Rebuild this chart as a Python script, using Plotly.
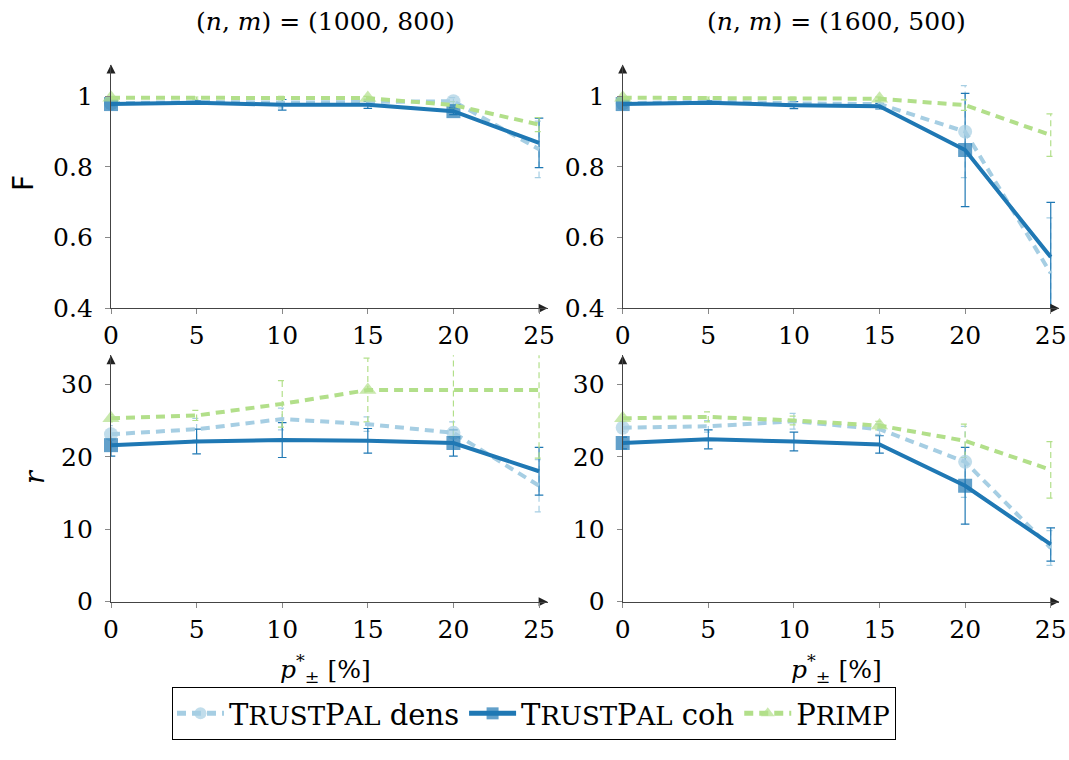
import plotly.graph_objects as go

# ---------------- data ----------------
x_vals = [0, 5, 10, 15, 20, 25]
x_ticks = [0, 5, 10, 15, 20, 25]

titles = ["(<i>n</i>, <i>m</i>) = (1000, 800)", "(<i>n</i>, <i>m</i>) = (1600, 500)"]

# F, (1000, 800)
F1_dens = [0.980, 0.984, 0.982, 0.984, 0.986, 0.850]
F1_dens_err = [0.005, 0.005, 0.015, 0.008, 0.010, 0.080]
F1_coh = [0.978, 0.982, 0.976, 0.976, 0.958, 0.868]
F1_coh_err = [0.005, 0.005, 0.015, 0.010, 0.010, 0.070]
F1_primp = [0.996, 0.995, 0.995, 0.995, 0.975, 0.920]
F1_primp_err = [0.003, 0.003, 0.005, 0.005, 0.010, 0.020]

# F, (1600, 500)
F2_dens = [0.980, 0.985, 0.980, 0.978, 0.900, 0.499]
F2_dens_err = [0.005, 0.005, 0.010, 0.008, 0.130, 0.157]
F2_coh = [0.978, 0.982, 0.975, 0.972, 0.848, 0.545]
F2_coh_err = [0.005, 0.005, 0.010, 0.008, 0.160, 0.155]
F2_primp = [0.996, 0.995, 0.994, 0.993, 0.975, 0.890]
F2_primp_err = [0.003, 0.003, 0.004, 0.005, 0.015, 0.060]

# r, (1000, 800)
r1_dens = [23.1, 23.8, 25.2, 24.5, 23.3, 16.0]
r1_dens_err = [1.2, 1.5, 1.5, 1.0, 1.5, 3.6]
r1_coh = [21.6, 22.1, 22.3, 22.2, 21.9, 18.0]
r1_coh_err = [1.5, 1.7, 2.4, 1.7, 1.8, 3.3]
r1_primp = [25.3, 25.7, 27.3, 29.2, 29.2, 29.2]
r1_primp_err = [0.5, 0.7, 3.2, 4.4, 6.4, 9.4]

# r, (1600, 500)
r2_dens = [24.0, 24.2, 24.9, 23.8, 19.3, 7.4]
r2_dens_err = [0.5, 0.8, 1.1, 0.7, 4.9, 2.4]
r2_coh = [21.9, 22.4, 22.1, 21.7, 16.0, 7.9]
r2_coh_err = [0.8, 1.3, 1.3, 1.2, 5.3, 2.3]
r2_primp = [25.3, 25.5, 25.0, 24.3, 22.2, 18.2]
r2_primp_err = [0.5, 0.7, 0.6, 0.6, 2.3, 3.9]

# ---------------- style ----------------
SERIF = "DejaVu Serif"
C_DENS = "#a6cee3"
C_COH = "#1f78b4"
C_PRIMP = "#b2df8a"

sc = lambda s: '<span style="font-size:26px">' + s + '</span>'
series = [
    dict(key="dens", name="T" + sc("RUST") + "P" + sc("AL") + " dens", color=C_DENS,
         dash="9px,6px", symbol="circle", msize=14, marks=[0, 4], edash="6px,4px"),
    dict(key="coh", name="T" + sc("RUST") + "P" + sc("AL") + " coh", color=C_COH,
         dash="solid", symbol="square", msize=14, marks=[0, 4], edash="solid"),
    dict(key="primp", name="P" + sc("RIMP"), color=C_PRIMP,
         dash="9px,6px", symbol="triangle-up", msize=15, marks=[0, 3], edash="6px,4px"),
]

X_RANGE = [0, 25.5]
F_RANGE = [0.4, 1.09]
R_RANGE = [0, 34]

panels = [
    ("x", "y", F_RANGE, {"dens": (F1_dens, F1_dens_err), "coh": (F1_coh, F1_coh_err), "primp": (F1_primp, F1_primp_err)}),
    ("x2", "y2", F_RANGE, {"dens": (F2_dens, F2_dens_err), "coh": (F2_coh, F2_coh_err), "primp": (F2_primp, F2_primp_err)}),
    ("x3", "y3", R_RANGE, {"dens": (r1_dens, r1_dens_err), "coh": (r1_coh, r1_coh_err), "primp": (r1_primp, r1_primp_err)}),
    ("x4", "y4", R_RANGE, {"dens": (r2_dens, r2_dens_err), "coh": (r2_coh, r2_coh_err), "primp": (r2_primp, r2_primp_err)}),
]

CAP = 0.25


def err_lines(xs, ys, es):
    X, Y = [], []
    for xv, yv, ev in zip(xs, ys, es):
        X += [xv, xv, None, xv - CAP, xv + CAP, None, xv - CAP, xv + CAP, None]
        Y += [yv - ev, yv + ev, None, yv - ev, yv - ev, None, yv + ev, yv + ev, None]
    return X, Y


fig = go.Figure()

# error bars first (underneath)
for xa, ya, yr, data in panels:
    for s in series:
        yv, ev = data[s["key"]]
        ex, ey = err_lines(x_vals, yv, ev)
        fig.add_trace(go.Scatter(x=ex, y=ey, xaxis=xa, yaxis=ya, mode="lines",
                                 line=dict(color=s["color"], width=1.2, dash=s["edash"]),
                                 showlegend=False, hoverinfo="skip"))

# lines + markers
for i, (xa, ya, yr, data) in enumerate(panels):
    for s in series:
        yv, ev = data[s["key"]]
        sizes = [s["msize"] if k in s["marks"] else 0 for k in range(len(x_vals))]
        fig.add_trace(go.Scatter(x=x_vals, y=yv, xaxis=xa, yaxis=ya, mode="lines+markers",
                                 name=s["name"], legendgroup=s["key"], showlegend=(i == 0),
                                 line=dict(color=s["color"], width=4, dash=s["dash"]),
                                 marker=dict(symbol=s["symbol"], size=sizes, color=s["color"],
                                             line=dict(width=0)),
                                 cliponaxis=False))

# axis arrow heads (at the axis ends)
for xa, ya, yr, data in panels:
    fig.add_trace(go.Scatter(x=[X_RANGE[1], X_RANGE[0]], y=[yr[0], yr[1]], xaxis=xa, yaxis=ya,
                             mode="markers", showlegend=False, hoverinfo="skip", cliponaxis=False,
                             marker=dict(symbol=["arrow-right", "arrow-up"], size=9,
                                         color="#222", line=dict(width=0))))

W, H = 1069, 760
px = lambda p: p / W
py = lambda p: 1 - p / H

xdom_l = [px(111), px(547.6)]
xdom_r = [px(622.7), px(1059.3)]
ydom_t = [py(308.3), py(64.5)]
ydom_b = [py(601.7), py(355.3)]

axis_common = dict(showline=True, linecolor="#444", linewidth=1.3, ticks="outside",
                   ticklen=5, tickwidth=1, tickcolor="#888", showgrid=False, zeroline=False,
                   automargin=False,
                   tickfont=dict(family=SERIF, size=25, color="black"), fixedrange=True)

layout = dict(
    width=W, height=H, margin=dict(l=0, r=0, t=0, b=0, autoexpand=False),
    plot_bgcolor="white", paper_bgcolor="white",
    font=dict(family=SERIF, size=25, color="black"),
    showlegend=True,
    legend=dict(orientation="h", x=px(534), xanchor="center", y=py(687), yanchor="top",
                bordercolor="black", borderwidth=1, bgcolor="white",
                font=dict(family=SERIF, size=29, color="black"),
                itemsizing="constant", itemwidth=47, tracegroupgap=0),
)

for n, (xd, yd, yr, dt) in enumerate([
    (xdom_l, ydom_t, F_RANGE, 0.2),
    (xdom_r, ydom_t, F_RANGE, 0.2),
    (xdom_l, ydom_b, R_RANGE, 10),
    (xdom_r, ydom_b, R_RANGE, 10),
], start=1):
    sfx = "" if n == 1 else str(n)
    layout["xaxis" + sfx] = dict(axis_common, domain=xd, range=X_RANGE, tickvals=x_ticks,
                                 anchor="y" + sfx, ticklabelstandoff=0)
    layout["yaxis" + sfx] = dict(axis_common, domain=yd, range=yr, dtick=dt, tick0=0,
                                 anchor="x" + sfx, ticklabelstandoff=7)

fig.update_layout(**layout)

ann = []
# titles and x labels
for t, cx in zip(titles, [325, 836.7]):
    ann.append(dict(xref="paper", yref="paper", x=px(cx), y=py(22), text=t, showarrow=False,
                    font=dict(family=SERIF, size=25), xanchor="center", yanchor="middle"))
    ann.append(dict(xref="paper", yref="paper", x=px(cx), y=py(669),
                    text="<i>p</i><sup>*</sup><sub>±</sub> [%]", showarrow=False,
                    font=dict(family=SERIF, size=25), xanchor="center", yanchor="middle"))
# y labels
ann.append(dict(xref="paper", yref="paper", x=px(23), y=py(183), text="F", textangle=-90,
                showarrow=False, font=dict(family="DejaVu Sans", size=28),
                xanchor="center", yanchor="middle"))
ann.append(dict(xref="paper", yref="paper", x=px(34), y=py(477), text="<i>r</i>", textangle=-90,
                showarrow=False, font=dict(family=SERIF, size=27),
                xanchor="center", yanchor="middle"))

fig.update_layout(annotations=ann)
fig.write_html("out.html", config={"displayModeBar": False},
               post_script="document.body.style.margin='0px';")
